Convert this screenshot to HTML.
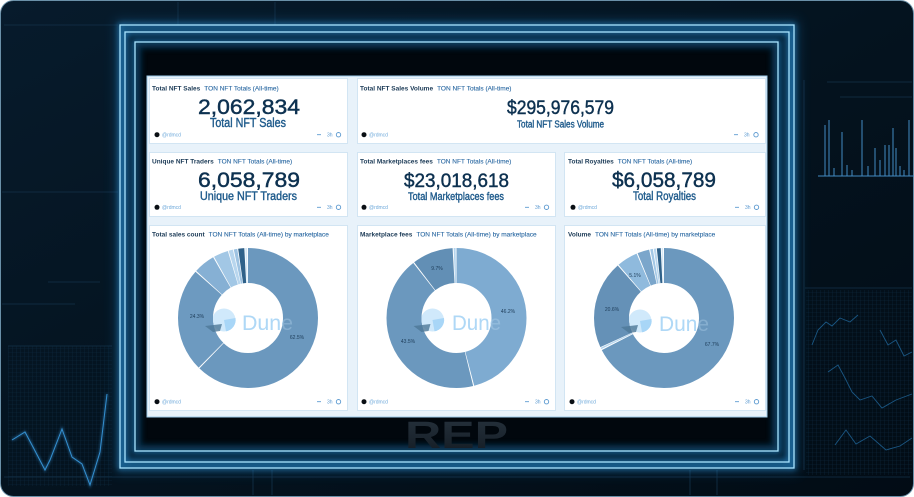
<!DOCTYPE html>
<html>
<head>
<meta charset="utf-8">
<style>
*{margin:0;padding:0;box-sizing:border-box}
html,body{width:914px;height:497px;overflow:hidden;background:#ffffff;font-family:"Liberation Sans",sans-serif}
svg{position:absolute;left:0;top:0;display:block}
</style>
</head>
<body>
<svg width="914" height="497" viewBox="0 0 914 497" xmlns="http://www.w3.org/2000/svg" font-family="Liberation Sans, sans-serif">
<defs>
  <linearGradient id="bgg" x1="0" y1="0" x2="1" y2="1">
    <stop offset="0" stop-color="#071b2c"/>
    <stop offset="0.5" stop-color="#04131f"/>
    <stop offset="1" stop-color="#020c15"/>
  </linearGradient>
  <linearGradient id="repg" x1="0" y1="0" x2="0" y2="1">
    <stop offset="0" stop-color="#26323d"/>
    <stop offset="1" stop-color="#131b23"/>
  </linearGradient>
  <filter id="blur3" x="-20%" y="-20%" width="140%" height="140%"><feGaussianBlur stdDeviation="3"/></filter>
  <filter id="blur6" x="-20%" y="-20%" width="140%" height="140%"><feGaussianBlur stdDeviation="6"/></filter>
  <filter id="blur1" x="-20%" y="-20%" width="140%" height="140%"><feGaussianBlur stdDeviation="1.2"/></filter>
  <pattern id="grid" width="4" height="4" patternUnits="userSpaceOnUse">
    <path d="M4 0H0V4" fill="none" stroke="#0e2c44" stroke-width="0.6"/>
  </pattern>
  <clipPath id="h1"><circle cx="248" cy="318" r="35"/></clipPath>
  <clipPath id="h2"><circle cx="456.5" cy="318" r="35"/></clipPath>
  <clipPath id="h3"><circle cx="664" cy="318" r="35"/></clipPath>
</defs>

<!-- outer background -->
<rect x="0.5" y="0.5" width="913" height="496" rx="13" fill="url(#bgg)" stroke="#6a90a8" stroke-width="1"/>

<!-- faint decorative lines -->
<g stroke="#14324a" stroke-width="0.8" fill="none">
  <path d="M4 25H118"/>
  <path d="M178 2V25"/>
  <path d="M275 2V25"/>
  <path d="M2 192H118"/>
  <path d="M48 282H100"/>
  <path d="M2 304H75"/>
  <path d="M8 346H112"/>
  <path d="M804 80V470"/>
  <path d="M827 82H912"/>
  <path d="M840 97H912"/>
  <path d="M805 288H912"/>
  <path d="M4 477H910"/>
  <path d="M253 470V495"/>
  <path d="M272 470V495"/>
  <path d="M690 470V495"/>
  <path d="M717 470V495"/>
</g>
<rect x="8" y="346" width="104" height="140" fill="url(#grid)" opacity="0.9"/>
<rect x="806" y="290" width="106" height="185" fill="url(#grid)" opacity="0.9"/>

<!-- zig zag left -->
<polyline points="12,440 25,432 33,447 45,470 50,460 62,429 72,457 82,464 90,485 100,452 107,394" fill="none" stroke="#2f86c8" stroke-width="2.5" opacity="0.45" filter="url(#blur1)"/>
<polyline points="12,440 25,432 33,447 45,470 50,460 62,429 72,457 82,464 90,485 100,452 107,394" fill="none" stroke="#3590d0" stroke-width="1"/>

<!-- right squiggles -->
<g fill="none" stroke="#1d5e8e" stroke-width="0.9" opacity="0.9">
  <polyline points="812,345 818,330 826,322 832,326 840,318 850,322 858,315"/>
  <polyline points="828,372 838,365 845,378 852,392 860,400 872,396 882,408 896,400 912,394"/>
  <polyline points="835,445 846,430 856,444 870,436 886,450 900,446 912,438"/>
  <polyline points="880,330 888,345 896,340 904,356 912,352"/>
</g>

<!-- spike chart right -->
<g stroke="#4a98d4" stroke-width="1" fill="none" opacity="0.9">
  <path d="M818 176H914"/>
  <path d="M825 176V125"/>
  <path d="M829 176V120"/>
  <path d="M842 176V132"/>
  <path d="M862 176V120"/>
  <path d="M875 176V148"/>
  <path d="M885 176V145"/>
  <path d="M889 176V145"/>
  <path d="M893 176V128"/>
  <path d="M896 176V148"/>
  <path d="M909 176V120"/>
  <path d="M834 176V168"/>
  <path d="M847 176V165"/>
  <path d="M852 176V170"/>
  <path d="M868 176V166"/>
  <path d="M880 176V160"/>
  <path d="M900 176V166"/>
  <path d="M904 176V170"/>
</g>

<!-- frame zone -->
<rect x="120" y="25" width="674" height="443" fill="#062238"/>
<rect x="120" y="25" width="674" height="443" fill="none" stroke="#1c72b0" stroke-width="10" opacity="0.3" filter="url(#blur6)"/>
<rect x="135" y="42" width="643" height="409" fill="#01070d"/>
<!-- glow strokes -->
<g fill="none" filter="url(#blur3)" stroke="#2d9ee6" stroke-width="3" opacity="0.75">
  <rect x="120" y="25" width="674" height="443"/>
  <rect x="125" y="32" width="664" height="430"/>
  <rect x="135" y="42" width="643" height="409"/>
</g>
<rect x="139" y="46" width="635" height="401" fill="none" stroke="#0f4f7e" stroke-width="5" opacity="0.5" filter="url(#blur3)"/>
<g fill="none" stroke="#a9e4ff" stroke-width="1.3">
  <rect x="120" y="25" width="674" height="443"/>
  <rect x="125" y="32" width="664" height="430"/>
  <rect x="135" y="42" width="643" height="409"/>
</g>

<!-- REP -->
<text x="405" y="448" font-size="38" font-weight="bold" fill="url(#repg)" textLength="103" lengthAdjust="spacingAndGlyphs">REP</text>

<!-- dashboard -->
<rect x="147" y="76" width="620" height="341" fill="#e8f2fa" stroke="#9bcbea" stroke-width="1"/>

<!-- cards -->
<g fill="#ffffff" stroke="#d2e5f3" stroke-width="1">
  <rect x="149.5" y="78.5" width="198" height="65"/>
  <rect x="357.5" y="78.5" width="408" height="65"/>
  <rect x="149.5" y="152.5" width="198" height="64"/>
  <rect x="357.5" y="152.5" width="198" height="64"/>
  <rect x="564.5" y="152.5" width="201" height="64"/>
  <rect x="149.5" y="225.5" width="198" height="185"/>
  <rect x="357.5" y="225.5" width="198" height="185"/>
  <rect x="564.5" y="225.5" width="201" height="185"/>
</g>

<!-- titles -->
<g font-size="6.5" fill="#1b3a56">
  <text x="152" y="90.3"><tspan font-weight="bold">Total NFT Sales</tspan><tspan dx="4" fill="#2c6aa3" stroke="#2c6aa3" stroke-width="0.12">TON NFT Totals (All-time)</tspan></text>
  <text x="360" y="90.3"><tspan font-weight="bold">Total NFT Sales Volume</tspan><tspan dx="4" fill="#2c6aa3" stroke="#2c6aa3" stroke-width="0.12">TON NFT Totals (All-time)</tspan></text>
  <text x="152" y="163.3"><tspan font-weight="bold">Unique NFT Traders</tspan><tspan dx="4" fill="#2c6aa3" stroke="#2c6aa3" stroke-width="0.12">TON NFT Totals (All-time)</tspan></text>
  <text x="360" y="163.3"><tspan font-weight="bold">Total Marketplaces fees</tspan><tspan dx="4" fill="#2c6aa3" stroke="#2c6aa3" stroke-width="0.12">TON NFT Totals (All-time)</tspan></text>
  <text x="568" y="163.3"><tspan font-weight="bold">Total Royalties</tspan><tspan dx="4" fill="#2c6aa3" stroke="#2c6aa3" stroke-width="0.12">TON NFT Totals (All-time)</tspan></text>
  <text x="152" y="236.3"><tspan font-weight="bold">Total sales count</tspan><tspan dx="4" fill="#2c6aa3" stroke="#2c6aa3" stroke-width="0.12">TON NFT Totals (All-time) by marketplace</tspan></text>
  <text x="360" y="236.3"><tspan font-weight="bold">Marketplace fees</tspan><tspan dx="4" fill="#2c6aa3" stroke="#2c6aa3" stroke-width="0.12">TON NFT Totals (All-time) by marketplace</tspan></text>
  <text x="568" y="236.3"><tspan font-weight="bold">Volume</tspan><tspan dx="4" fill="#2c6aa3" stroke="#2c6aa3" stroke-width="0.12">TON NFT Totals (All-time) by marketplace</tspan></text>
</g>

<!-- counters -->
<g fill="#0d3150" stroke="#0d3150" stroke-width="0.45">
  <text x="198" y="114" font-size="21" textLength="102" lengthAdjust="spacingAndGlyphs">2,062,834</text>
  <text x="507" y="114" font-size="19.5" textLength="107" lengthAdjust="spacingAndGlyphs">$295,976,579</text>
  <text x="198" y="187" font-size="21" textLength="102" lengthAdjust="spacingAndGlyphs">6,058,789</text>
  <text x="404" y="187" font-size="19.5" textLength="105" lengthAdjust="spacingAndGlyphs">$23,018,618</text>
  <text x="612" y="187" font-size="21" textLength="104" lengthAdjust="spacingAndGlyphs">$6,058,789</text>
</g>
<g fill="#1f5b8c" stroke="#1f5b8c" stroke-width="0.4">
  <text x="210" y="127" font-size="12.5" textLength="76" lengthAdjust="spacingAndGlyphs">Total NFT Sales</text>
  <text x="517" y="127.5" font-size="10" textLength="87" lengthAdjust="spacingAndGlyphs">Total NFT Sales Volume</text>
  <text x="200" y="200" font-size="11.5" textLength="97" lengthAdjust="spacingAndGlyphs">Unique NFT Traders</text>
  <text x="408" y="200" font-size="11" textLength="96" lengthAdjust="spacingAndGlyphs">Total Marketplaces fees</text>
  <text x="633" y="200" font-size="11.5" textLength="63" lengthAdjust="spacingAndGlyphs">Total Royalties</text>
</g>

<!-- footers -->
<g font-size="5" fill="#6ea9da">
  <circle cx="157" cy="134.7" r="2.5" fill="#0a0f14"/><text x="162" y="136.5">@rdmcd</text>
  <circle cx="364" cy="134.7" r="2.5" fill="#0a0f14"/><text x="369" y="136.5">@rdmcd</text>
  <circle cx="157" cy="207.3" r="2.5" fill="#0a0f14"/><text x="162" y="209">@rdmcd</text>
  <circle cx="364" cy="207.3" r="2.5" fill="#0a0f14"/><text x="369" y="209">@rdmcd</text>
  <circle cx="573" cy="207.3" r="2.5" fill="#0a0f14"/><text x="578" y="209">@rdmcd</text>
  <circle cx="157" cy="401.7" r="2.5" fill="#0a0f14"/><text x="162" y="403.5">@rdmcd</text>
  <circle cx="364" cy="401.7" r="2.5" fill="#0a0f14"/><text x="369" y="403.5">@rdmcd</text>
  <circle cx="572" cy="401.7" r="2.5" fill="#0a0f14"/><text x="577" y="403.5">@rdmcd</text>
</g>
<g font-size="5" fill="#5c9ad0" stroke="none">
  <text x="327" y="136.5">3h</text><text x="744" y="136.5">3h</text>
  <text x="327" y="209">3h</text><text x="535" y="209">3h</text><text x="745" y="209">3h</text>
  <text x="327" y="403.5">3h</text><text x="535" y="403.5">3h</text><text x="745" y="403.5">3h</text>
</g>
<g stroke="#5c9ad0" stroke-width="0.9" fill="none">
  <path d="M317 134.7h4M734 134.7h4"/>
  <path d="M317 207.3h4M525 207.3h4M735 207.3h4"/>
  <path d="M317 401.7h4M525 401.7h4M735 401.7h4"/>
  <circle cx="338.5" cy="134.7" r="2.2"/><circle cx="756" cy="134.7" r="2.2"/>
  <circle cx="338.5" cy="207.3" r="2.2"/><circle cx="546.5" cy="207.3" r="2.2"/><circle cx="756.5" cy="207.3" r="2.2"/>
  <circle cx="338.5" cy="401.7" r="2.2"/><circle cx="546.5" cy="401.7" r="2.2"/><circle cx="756.5" cy="401.7" r="2.2"/>
</g>

<!-- Donut 1 -->
<g fill="none" stroke-width="35" transform="rotate(-90 248 318)">
  <circle cx="248" cy="318" r="52.5" stroke="#ffffff" />
  <circle cx="248" cy="318" r="52.5" pathLength="100" stroke="#6b98be" stroke-dasharray="62.25 100" stroke-dashoffset="0"/>
  <circle cx="248" cy="318" r="52.5" pathLength="100" stroke="#6d9ac0" stroke-dasharray="24.05 100" stroke-dashoffset="-62.5"/>
  <circle cx="248" cy="318" r="52.5" pathLength="100" stroke="#86b0d4" stroke-dasharray="4.95 100" stroke-dashoffset="-86.8"/>
  <circle cx="248" cy="318" r="52.5" pathLength="100" stroke="#a2c7e5" stroke-dasharray="3.4 100" stroke-dashoffset="-92"/>
  <circle cx="248" cy="318" r="52.5" pathLength="100" stroke="#b8d6ee" stroke-dasharray="1.0 100" stroke-dashoffset="-95.6"/>
  <circle cx="248" cy="318" r="52.5" pathLength="100" stroke="#9ec3e2" stroke-dasharray="0.8 100" stroke-dashoffset="-96.8"/>
  <circle cx="248" cy="318" r="52.5" pathLength="100" stroke="#2f6189" stroke-dasharray="1.4 100" stroke-dashoffset="-97.8"/>
  <circle cx="248" cy="318" r="52.5" pathLength="100" stroke="#d6e9f7" stroke-dasharray="0.45 100" stroke-dashoffset="-99.4"/>
</g>
<!-- Donut 2 -->
<g fill="none" stroke-width="35" transform="rotate(-90 456.5 318)">
  <circle cx="456.5" cy="318" r="52.5" stroke="#ffffff"/>
  <circle cx="456.5" cy="318" r="52.5" pathLength="100" stroke="#7eabd1" stroke-dasharray="45.95 100" stroke-dashoffset="0"/>
  <circle cx="456.5" cy="318" r="52.5" pathLength="100" stroke="#6b98be" stroke-dasharray="43.25 100" stroke-dashoffset="-46.2"/>
  <circle cx="456.5" cy="318" r="52.5" pathLength="100" stroke="#628fb5" stroke-dasharray="9.45 100" stroke-dashoffset="-89.7"/>
  <circle cx="456.5" cy="318" r="52.5" pathLength="100" stroke="#b5d5ee" stroke-dasharray="0.45 100" stroke-dashoffset="-99.4"/>
</g>
<!-- Donut 3 -->
<g fill="none" stroke-width="35" transform="rotate(-90 664 318)">
  <circle cx="664" cy="318" r="52.5" stroke="#ffffff"/>
  <circle cx="664" cy="318" r="52.5" pathLength="100" stroke="#6b98be" stroke-dasharray="67.45 100" stroke-dashoffset="0"/>
  <circle cx="664" cy="318" r="52.5" pathLength="100" stroke="#b5d5ee" stroke-dasharray="0.35 100" stroke-dashoffset="-67.7"/>
  <circle cx="664" cy="318" r="52.5" pathLength="100" stroke="#6591b7" stroke-dasharray="20.35 100" stroke-dashoffset="-68.2"/>
  <circle cx="664" cy="318" r="52.5" pathLength="100" stroke="#8fbadd" stroke-dasharray="4.85 100" stroke-dashoffset="-88.8"/>
  <circle cx="664" cy="318" r="52.5" pathLength="100" stroke="#7ba6cb" stroke-dasharray="2.75 100" stroke-dashoffset="-93.9"/>
  <circle cx="664" cy="318" r="52.5" pathLength="100" stroke="#a2c7e5" stroke-dasharray="0.6 100" stroke-dashoffset="-96.9"/>
  <circle cx="664" cy="318" r="52.5" pathLength="100" stroke="#b8d6ee" stroke-dasharray="0.5 100" stroke-dashoffset="-97.7"/>
  <circle cx="664" cy="318" r="52.5" pathLength="100" stroke="#2f6189" stroke-dasharray="0.9 100" stroke-dashoffset="-98.4"/>
  <circle cx="664" cy="318" r="52.5" pathLength="100" stroke="#d6e9f7" stroke-dasharray="0.35 100" stroke-dashoffset="-99.5"/>
</g>

<!-- percentage labels -->
<g font-size="5" fill="#1d3c58" text-anchor="middle">
  <text x="197" y="318">24.3%</text>
  <text x="297" y="339">62.5%</text>
  <text x="437" y="270">9.7%</text>
  <text x="508" y="313">46.2%</text>
  <text x="408" y="343">43.5%</text>
  <text x="635" y="277">5.1%</text>
  <text x="612" y="311">20.6%</text>
  <text x="712" y="346">67.7%</text>
</g>

<!-- Dune watermarks -->
<g>
  <circle cx="224" cy="320" r="11.5" fill="#d0e9fb" clip-path="url(#h1)"/>
  <path d="M224 320 L235.5 318 A11.5 11.5 0 0 1 226 331.3 Z" fill="#a8d6f7" clip-path="url(#h1)"/>
  <polygon points="222,324 205,326 213,332 220,331" fill="#4e7897" opacity="0.8"/>
  <text x="242" y="330" font-size="21" fill="#a6d4f6" textLength="51" lengthAdjust="spacingAndGlyphs" clip-path="url(#h1)">Dune</text>
  <text x="242" y="330" font-size="21" fill="#c4e2f8" opacity="0.3" textLength="51" lengthAdjust="spacingAndGlyphs">Dune</text>

  <circle cx="432.5" cy="320" r="11.5" fill="#d0e9fb" clip-path="url(#h2)"/>
  <path d="M432.5 320 L444 318 A11.5 11.5 0 0 1 434.5 331.3 Z" fill="#a8d6f7" clip-path="url(#h2)"/>
  <polygon points="430.5,324 413.5,326 421.5,332 428.5,331" fill="#4e7897" opacity="0.8"/>
  <text x="452" y="330" font-size="21" fill="#a6d4f6" textLength="49" lengthAdjust="spacingAndGlyphs" clip-path="url(#h2)">Dune</text>
  <text x="452" y="330" font-size="21" fill="#c4e2f8" opacity="0.3" textLength="49" lengthAdjust="spacingAndGlyphs">Dune</text>

  <circle cx="640" cy="321" r="11.5" fill="#d0e9fb" clip-path="url(#h3)"/>
  <path d="M640 321 L651.5 319 A11.5 11.5 0 0 1 642 332.3 Z" fill="#a8d6f7" clip-path="url(#h3)"/>
  <polygon points="638,325 621,327 629,333 636,332" fill="#4e7897" opacity="0.8"/>
  <text x="659" y="331" font-size="21" fill="#a6d4f6" textLength="50" lengthAdjust="spacingAndGlyphs" clip-path="url(#h3)">Dune</text>
  <text x="659" y="331" font-size="21" fill="#c4e2f8" opacity="0.3" textLength="50" lengthAdjust="spacingAndGlyphs">Dune</text>
</g>
</svg>
</body>
</html>
